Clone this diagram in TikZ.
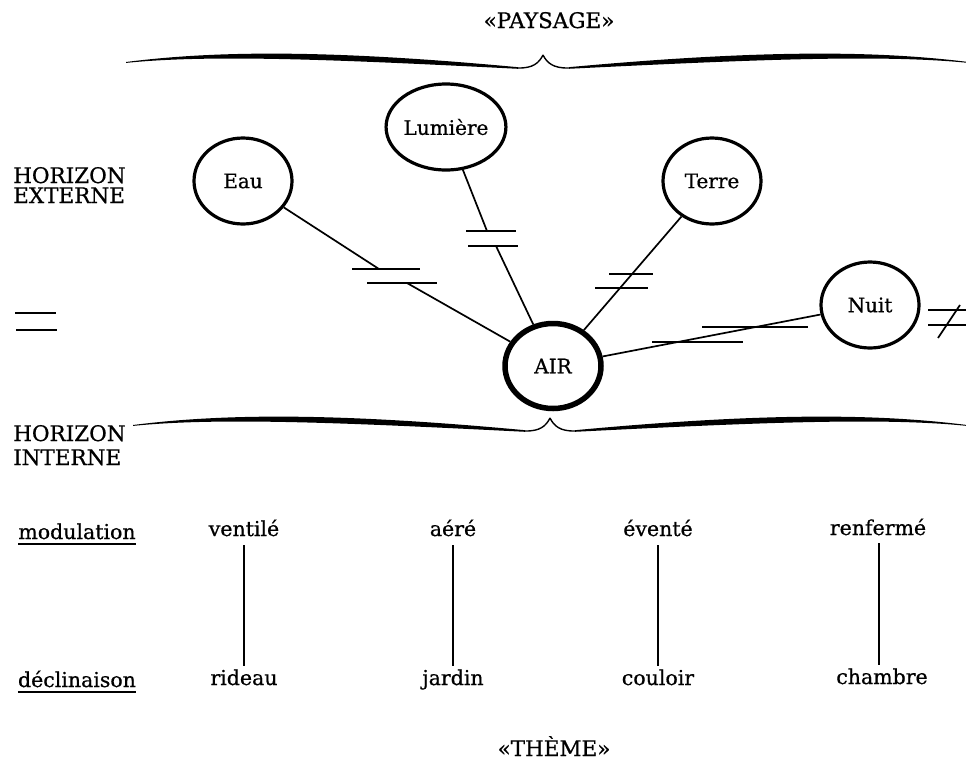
\documentclass[tikz,border=0pt]{standalone}
\usepackage{fontspec}
\setmainfont{DejaVu Serif}[FakeBold=0.7]
\usetikzlibrary{shapes.geometric}
\tikzset{
  bracehalf/.pic={
    \fill (-417,7) .. controls (-330,-4) and (-220,-6) .. (-25,12.2)
          -- (-25,13.8) .. controls (-200,5) and (-330,-1) .. (-417,7.9) -- cycle;
    \draw[line width=1.4pt] (-25,13) .. controls (-10,13.3) and (-4,8) .. (0,0);
  }
}
\begin{document}
\begin{tikzpicture}[x=1pt,y=-1pt,
  every node/.style={font=\fontsize{20.5}{20.5}\selectfont, inner sep=0pt},
  orb/.style={ellipse, draw, line width=3.2pt, minimum width=98pt, minimum height=86pt,
              font=\fontsize{20}{20}\selectfont},
  link/.style={line width=1.7pt},
  bar/.style={line width=1.8pt},
  lbl/.style={anchor=base},
  side/.style={anchor=base west, font=\fontsize{21.5}{21.5}\selectfont}
]
\useasboundingbox[fill=white] (0,0) rectangle (966,761);

% braces
\pic at (543,55) {bracehalf};
\pic[xscale=-1.02] at (543,55) {bracehalf};
\pic at (550,418) {bracehalf};
\pic[xscale=-1.0] at (550,418) {bracehalf};

% titles
\node[lbl, font=\fontsize{21.5}{21.5}\selectfont] (pays) at (549,28) {«PAYSAGE»};
\node[lbl, font=\fontsize{21.5}{21.5}\selectfont] (theme) at (554,756) {«THÈME»};

% side labels
\node[side] (he1) at (13,183) {HORIZON};
\node[side] (he2) at (13,203) {EXTERNE};
\node[side] (hi1) at (13,441) {HORIZON};
\node[side] (hi2) at (13,465) {INTERNE};

% left equality sign
\draw[bar] (15,313) -- (56,313);
\draw[bar] (16,330) -- (57,330);

% circles
\node[orb] (eau) at (243,181) {Eau};
\node[orb] (lum) at (446,127) {Lumière};
\node[orb] (terre) at (712,181) {Terre};
\node[orb] (nuit) at (870,305) {Nuit};
\node[orb, line width=5.5pt, minimum width=96pt, minimum height=85pt] (air) at (553,366) {AIR};

% Eau -- AIR (=)
\coordinate (e1) at (379,269);
\coordinate (e2) at (407,283);
\draw[link] (eau) -- (e1);
\draw[link] (e2) -- (air);
\draw[bar] (352,269) -- (420,269);
\draw[bar] (367,283) -- (437,283);

% Lumiere -- AIR (=)
\coordinate (l1) at (487,231);
\coordinate (l2) at (496,246);
\draw[link] (lum) -- (l1);
\draw[link] (l2) -- (air);
\draw[bar] (466,231) -- (516,231);
\draw[bar] (468,246) -- (518,246);

% Terre -- AIR (not equal)
\draw[link] (terre) -- (air);
\draw[bar] (609,274) -- (653,274);
\draw[bar] (595,288) -- (648,288);

% AIR -- Nuit (not equal)
\draw[link] (air) -- (nuit);
\draw[bar] (702,327) -- (808,327);
\draw[bar] (652,342) -- (743,342);

% not-equal sign right of Nuit
\draw[bar] (928,310) -- (966,310);
\draw[bar] (928,325) -- (966,325);
\draw[link] (938,338) -- (960,305);

% modulation / declinaison
\node[lbl] (mod) at (77,539) {modulation};
\node[lbl] (dec) at (77,687) {déclinaison};
\draw[line width=1.3pt] ([yshift=-5pt]mod.base west) -- ([yshift=-5pt]mod.base east);
\draw[line width=1.3pt] ([yshift=-5pt]dec.base west) -- ([yshift=-5pt]dec.base east);

\node[lbl] (m1) at (244,536) {ventilé};
\node[lbl] (m2) at (453,536) {aéré};
\node[lbl] (m3) at (658,536) {éventé};
\node[lbl] (m4) at (878,535) {renfermé};
\node[lbl] (d1) at (244,685) {rideau};
\node[lbl] (d2) at (453,685) {jardin};
\node[lbl] (d3) at (658,685) {couloir};
\node[lbl] (d4) at (882,684) {chambre};

\draw[line width=1.4pt] ([yshift=-9pt]m1.base) -- ([yshift=19pt]d1.base);
\draw[line width=1.4pt] ([yshift=-9pt]m2.base) -- ([yshift=19pt]d2.base);
\draw[line width=1.4pt] ([yshift=-9pt]m3.base) -- ([yshift=19pt]d3.base);
\draw[line width=1.4pt] ([yshift=-8pt,xshift=1pt]m4.base) -- ([yshift=19pt,xshift=-3pt]d4.base);
\end{tikzpicture}
\end{document}
